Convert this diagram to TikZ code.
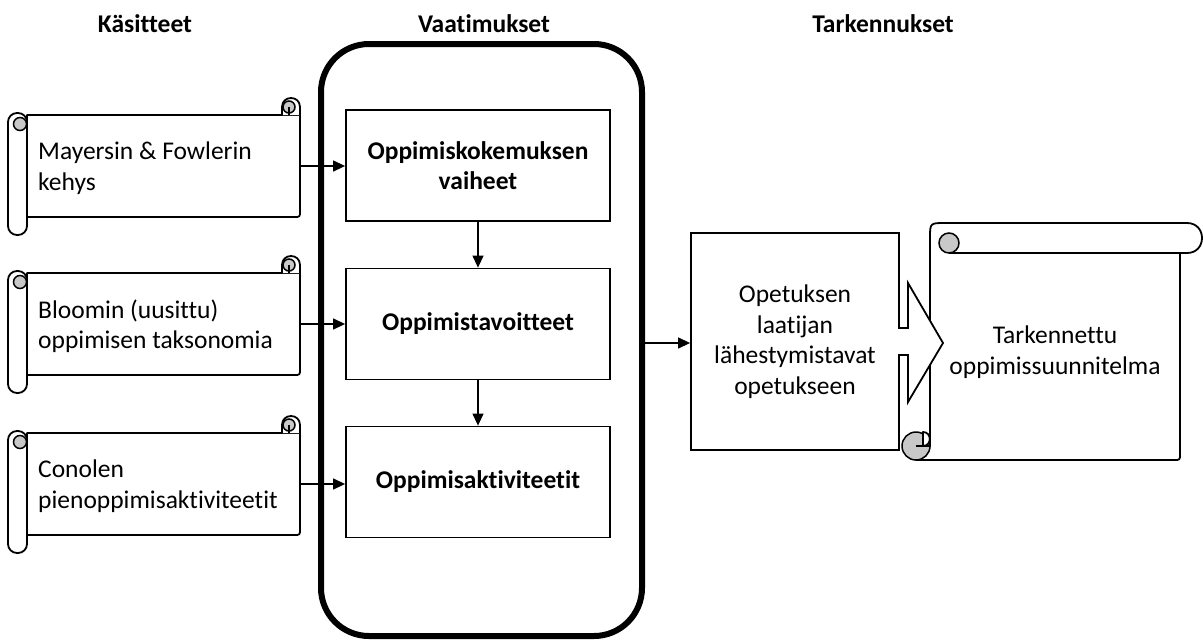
\documentclass[tikz,border=0pt]{standalone}
\usepackage{fontspec}
\setmainfont[Ligatures={NoCommon}]{Carlito}
\usetikzlibrary{arrows.meta}
\definecolor{curlgray}{RGB}{200,200,200}
\tikzset{
  txt/.style={font=\fontsize{25.5}{30.5}\selectfont, inner sep=0pt},
  head/.style={font=\fontsize{25.5}{30}\selectfont\bfseries, inner sep=0pt},
  boxtxt/.style={font=\fontsize{25.5}{30.5}\selectfont\bfseries, align=center},
  box/.style={draw, line width=1.8pt, fill=white, inner sep=0pt},
  arr/.style={line width=1.3pt, -{Triangle[length=12pt,width=11pt]}},
  sc/.style={draw, line width=1.8pt, fill=white, line join=round},
  curl/.style={draw, line width=1.5pt, fill=curlgray},
  thinl/.style={line width=1.3pt},
}
\newcommand\hscroll[3]{%
  \draw[sc] (27,{#2}) -- (300,{#2}) -- (300,{#3-6}) .. controls (300,{#3}) .. (294,{#3}) -- (27,{#3}) -- cycle;
  \draw[sc] (282,{#2}) -- (282,{#2-8}) .. controls (282,{#2-20}) and (300,{#2-20}) .. (300,{#2-8}) -- (300,{#2});
  \draw[curl] (289,{#2-8}) circle[radius=6];
  \draw[thinl] (289,{#2-8}) -- (289,{#2});
  \draw[sc, rounded corners=9] (8,{#2-2}) rectangle (27,{#3+18});
  \draw[curl] (20,{#2+9}) circle[radius=6.5];
  \node[inner sep=0pt, minimum width=273, minimum height={#3-#2}] (#1) at (163.5,{(#2+#3)/2}) {};
}
\begin{document}
\begin{tikzpicture}[x=1pt,y=-1pt]
\useasboundingbox (0,0) rectangle (1203,641);

% headings
\node[head, anchor=base] (h1) at (145,32) {Käsitteet};
\node[head, anchor=base] (h2) at (484,32) {Vaatimukset};
\node[head, anchor=base] (h3) at (883,32) {Tarkennukset};

% big requirements container
\node[draw, line width=6pt, rounded corners=48, minimum width=321, minimum height=592, inner sep=0pt] (req) at (481.5,340) {};

% inner boxes
\node[box, minimum width=264, minimum height=111, boxtxt] (b1) at (478,165.5) {Oppimiskokemuksen\\vaiheet};
\node[box, minimum width=264, minimum height=111, boxtxt] (b2) at (478,324) {Oppimistavoitteet};
\node[box, minimum width=264, minimum height=111, boxtxt] (b3) at (478,482) {Oppimisaktiviteetit};

% scrolls (concepts)
\hscroll{s1}{115}{217}
\hscroll{s2}{273}{375}
\hscroll{s3}{433}{535}
\node[txt, align=left, anchor=west] (t1) at (38,168) {Mayersin \& Fowlerin\\kehys};
\node[txt, align=left, anchor=west] (t2) at (38,326) {Bloomin (uusittu)\\oppimisen taksonomia};
\node[txt, align=left, anchor=west] (t3) at (38,486) {Conolen\\pienoppimisaktiviteetit};

% connectors
\draw[arr] (s1.east) -- (s1.east -| b1.west);
\draw[arr] (s2.east) -- (s2.east -| b2.west);
\draw[arr] (s3.east) -- (s3.east -| b3.west);
\draw[arr] (b1.south) -- (b2.north);
\draw[arr] (b2.south) -- (b3.north);

% right box
\node[box, minimum width=208, minimum height=217, txt, align=center] (rb) at (795,341.5) {Opetuksen\\laatijan\\lähestymistavat\\opetukseen};
\draw[arr] (req.east |- 0,343) -- (rb.west |- 0,343);

% right (vertical) scroll
\draw[sc] (916,460) -- (1174,460) .. controls (1180,460) .. (1180,454) -- (1180,253) -- (1187,253)
  .. controls (1207,253) and (1207,223) .. (1187,223) -- (945,223) .. controls (930,223) .. (930,238) -- (930,446) -- cycle;
\draw[line width=1.8pt] (949,253) -- (1187,253);
\draw[curl] (949,243) circle[radius=10];
\draw[curl] (916,446) circle[radius=14];
\draw[sc] (923,432) .. controls (932,432) and (932,446) .. (923,446) -- cycle;
\draw[thinl] (916,446) -- (930,446);
\node[inner sep=0pt, minimum width=250, minimum height=207] (rs) at (1055,356.5) {};

% block arrow
\fill[white] (897,328) -- (908,328) -- (908,283) -- (943,343) -- (908,402) -- (908,355) -- (897,355) -- cycle;
\draw[line width=1.8pt, line join=miter] (898.2,328) -- (908,328) -- (908,283) -- (943,343) -- (908,402) -- (908,355) -- (898.2,355);

\node[txt, align=center] (ts) at (1055,352) {Tarkennettu\\oppimissuunnitelma};
\end{tikzpicture}
\end{document}
